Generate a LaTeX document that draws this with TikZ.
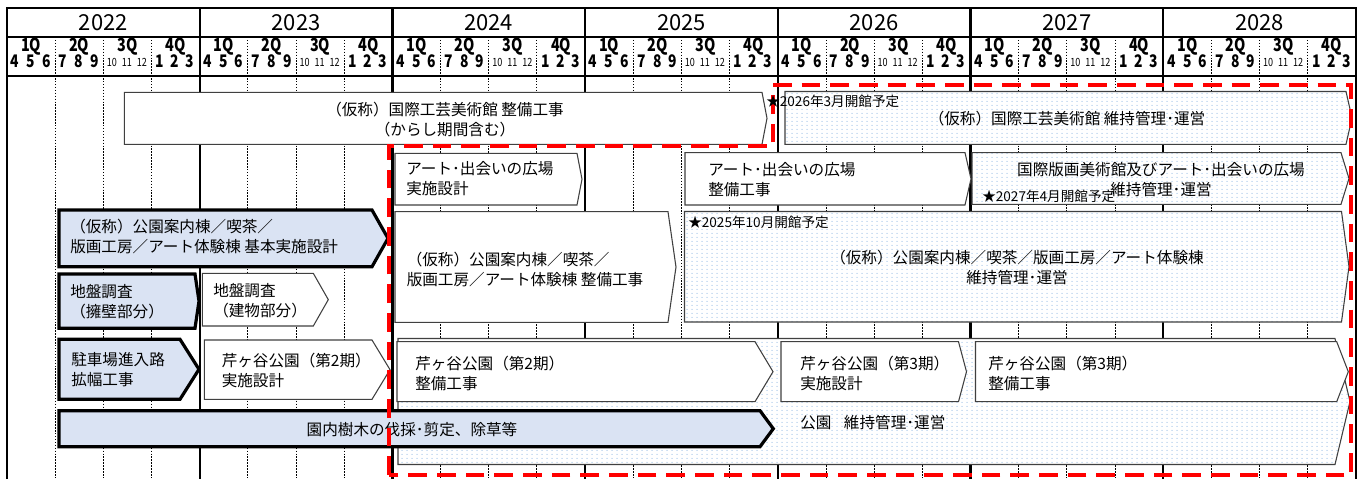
\documentclass[tikz,border=0pt]{standalone}
\usepackage{fontspec}
\setmainfont{Noto Sans CJK JP}
\newfontfamily\narrowfnt{Noto Sans CJK JP}[FakeStretch=0.8]
\usetikzlibrary{patterns.meta}
\definecolor{bandblue}{HTML}{DAE3F3}
\definecolor{dotblue}{HTML}{6FA3DC}
\definecolor{dashred}{HTML}{FF0000}
\definecolor{edgegray}{HTML}{404040}
\tikzdeclarepattern{name=bluedots, type=uncolored,
  bounding box={(0pt,0pt) and (3.75pt,3pt)}, tile size={(3.75pt,3pt)},
  code={\fill (1.875pt,1.5pt) circle (0.45pt);}}
% style, x-left, y-top, x-corner, x-tip, y-bottom
\newcommand\chevbox[6]{\path[#1] (#2,#3) -- (#4,#3) -- (#5,{(#3+#6)/2}) -- (#4,#6) -- (#2,#6) -- cycle;}
\begin{document}
\begin{tikzpicture}[x=0.75pt,y=-0.75pt,
  frameline/.style={line width=2.2pt, black},
  yearline/.style={line width=1.7pt, black},
  qline/.style={line width=0.7pt, black, dash pattern=on 1.1pt off 1.1pt},
  thinbox/.style={draw=edgegray, line width=0.8pt, fill=white},
  thickbox/.style={draw=black, line width=2.4pt, fill=bandblue},
  dotbox/.style={draw=edgegray, line width=0.8pt, preaction={fill=white}, pattern=bluedots, pattern color=dotblue},
  reddash/.style={draw=dashred, line width=3pt, dash pattern=on 14pt off 7.5pt},
  jt/.style={inner sep=0pt, font=\fontsize{11.7}{15}\selectfont, align=left, anchor=west},
  jc/.style={inner sep=0pt, font=\fontsize{11.7}{15}\selectfont, align=center},
  star/.style={inner sep=0pt, font=\fontsize{10.2}{12}\selectfont, anchor=west},
  yearlbl/.style={inner sep=0pt, font=\fontsize{16.5}{18}\selectfont},
  qlbl/.style={inner sep=0pt, font=\narrowfnt\bfseries\fontsize{13.5}{15}\selectfont},
  mlbl/.style={inner sep=0pt, font=\narrowfnt\bfseries\fontsize{13}{14}\selectfont},
  mtiny/.style={inner sep=0pt, font=\narrowfnt\fontsize{8.5}{10}\selectfont}]
\useasboundingbox (0,0) rectangle (1361,479);
\fill[white] (0,0) rectangle (1361,479);
% ---------- grid ----------
\foreach \i in {0,...,6}{
  \foreach \q in {1,2,3}{
    \draw[qline] ({7+\i*192.71+\q*48.18},37) -- ({7+\i*192.71+\q*48.18},479);
  }
}
\foreach \i in {1,...,6}{
  \draw[yearline] ({7+\i*192.71},8) -- ({7+\i*192.71},479);
}
\draw[frameline] (7,479) -- (7,8) -- (1356,8) -- (1356,479);
\draw[frameline] (7,37) -- (1356,37);
\draw[frameline] (7,76) -- (1356,76);
% ---------- header text ----------
\foreach \i/\yr in {0/2022,1/2023,2/2024,3/2025,4/2026,5/2027,6/2028}{
  \pgfmathsetmacro\xa{7+\i*192.71}
  \node[yearlbl] (yr\yr) at ({\xa+96.36},22.5) {\yr};
  \foreach \q in {1,...,4}{
    \node[qlbl] (q\yr-\q) at ({\xa+(\q-0.5)*48.18},47) {\q Q};
  }
  \node[mlbl] (m\yr-4) at ({\xa+8},61.5) {4};
  \node[mlbl] (m\yr-5) at ({\xa+24},61.5) {5};
  \node[mlbl] (m\yr-6) at ({\xa+39.5},61.5) {6};
  \node[mlbl] (m\yr-7) at ({\xa+48.18+8},61.5) {7};
  \node[mlbl] (m\yr-8) at ({\xa+48.18+24},61.5) {8};
  \node[mlbl] (m\yr-9) at ({\xa+48.18+39.5},61.5) {9};
  \node[mtiny] (m\yr-10) at ({\xa+96.36+8.5},62.5) {10};
  \node[mtiny] (m\yr-11) at ({\xa+96.36+23.5},62.5) {11};
  \node[mtiny] (m\yr-12) at ({\xa+96.36+38.5},62.5) {12};
  \node[mlbl] (m\yr-1) at ({\xa+144.54+8.5},61.5) {1};
  \node[mlbl] (m\yr-2) at ({\xa+144.54+23.5},61.5) {2};
  \node[mlbl] (m\yr-3) at ({\xa+144.54+38.5},61.5) {3};
}
% ---------- bars ----------
% row 1
\chevbox{thinbox}{124.3}{92.3}{762}{767}{144.3}
\chevbox{dotbox}{785}{91.5}{1346}{1352}{144.3}
% row 2
\chevbox{thinbox}{395}{153.3}{577}{582}{205}
\chevbox{thinbox}{685}{152.7}{965}{971}{205}
\chevbox{dotbox}{972}{152.7}{1341}{1349}{204.3}
% row 3
\chevbox{thickbox}{59}{210}{372}{388}{266.7}
\chevbox{thinbox}{395}{211.7}{668}{676}{322.3}
\chevbox{dotbox}{684.5}{211.5}{1341.5}{1349}{322}
\chevbox{thickbox}{59}{274}{195}{199}{328.3}
\chevbox{thinbox}{202.3}{273.3}{313.3}{328.3}{326}
% row 4
\chevbox{dotbox}{398}{338.5}{1335}{1350}{464.5}
\chevbox{thickbox}{59}{339.3}{180}{199}{399.3}
\chevbox{thinbox}{204.3}{340}{372}{390}{399.3}
\chevbox{thinbox}{397}{341.7}{755}{773}{401.7}
\chevbox{thinbox}{781}{341.7}{958.5}{966.5}{401.7}
\chevbox{thinbox}{975.5}{341.7}{1336.7}{1348.3}{401.7}
% row 5
\chevbox{thickbox}{59}{410.7}{760}{773.3}{446.7}
% ---------- texts ----------
\node[jc] (tA) at (445,119.5) {（仮称）国際工芸美術館 整備工事\\（からし期間含む）};
\node[jc] (tL) at (1067,118.5) {（仮称）国際工芸美術館 維持管理･運営};
\node[jt] (tC) at (406,179) {アート･出会いの広場\\実施設計};
\node[jt] (tJ) at (708,180) {アート･出会いの広場\\整備工事};
\node[jc] (tK) at (1161,179.5) {国際版画美術館及びアート･出会いの広場\\維持管理･運営};
\node[jt] (tB) at (70,236) {（仮称）公園案内棟／喫茶／\\版画工房／アート体験棟 基本実施設計};
\node[jt] (tD) at (406.5,269.5) {（仮称）公園案内棟／喫茶／\\版画工房／アート体験棟 整備工事};
\node[jc] (tM) at (1017,267) {（仮称）公園案内棟／喫茶／版画工房／アート体験棟\\維持管理･運営};
\node[jt] (tE) at (70,302) {地盤調査\\（擁壁部分）};
\node[jt] (tF) at (213,300.5) {地盤調査\\（建物部分）};
\node[jt] (tG) at (71,370) {駐車場進入路\\拡幅工事};
\node[jt] (tH) at (221.5,370.5) {芹ヶ谷公園（第2期）\\実施設計};
\node[jt] (tN) at (415,373) {芹ヶ谷公園（第2期）\\整備工事};
\node[jt] (tO) at (800,373) {芹ヶ谷公園（第3期）\\実施設計};
\node[jt] (tP) at (988,373) {芹ヶ谷公園（第3期）\\整備工事};
\node[jt] (tQ) at (800,423) {公園\hspace{0.8em}維持管理･運営};
\node[jc] (tI) at (412,430) {園内樹木の伐採･剪定、除草等};
% ---------- red dashed frame ----------
\draw[reddash] (389,475) -- (389,146) -- (773,146) -- (773,85) -- (1351,85) -- (1351,475) -- cycle;
% ---------- opening notes ----------
\node[star] (s2026) at (766,101) {★2026年3月開館予定};
\node[star] (s2027) at (982,196.5) {★2027年4月開館予定};
\node[star] (s2025) at (688,222) {★2025年10月開館予定};
\end{tikzpicture}
\end{document}
